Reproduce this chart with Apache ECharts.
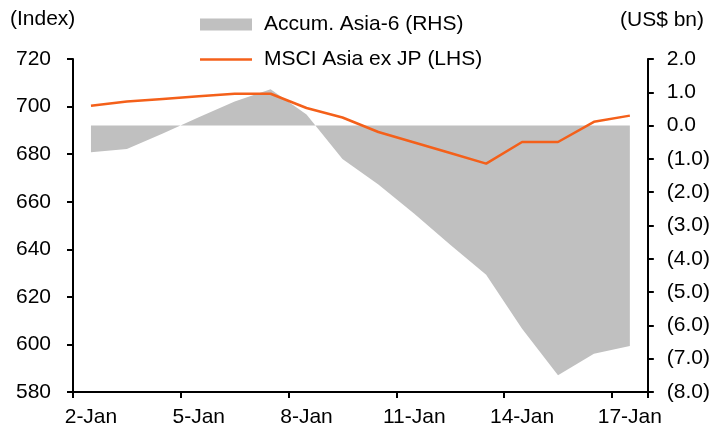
<!DOCTYPE html>
<html>
<head>
<meta charset="utf-8">
<script src="https://cdn.jsdelivr.net/npm/echarts@6/dist/echarts.min.js"></script>
<style>
  html, body { margin: 0; padding: 0; background: #fff; }
  #chart { width: 713px; height: 428px; }
</style>
</head>
<body>
<div id="chart"></div>
<script>
// Daily categories, 2-Jan to 17-Jan
const days = ['2-Jan','3-Jan','4-Jan','5-Jan','6-Jan','7-Jan','8-Jan','9-Jan',
              '10-Jan','11-Jan','12-Jan','13-Jan','14-Jan','15-Jan','16-Jan','17-Jan'];

// MSCI Asia ex JP index level (left axis)
const msciIndex = [700.3, 702.1, 703.2, 704.3, 705.4, 705.4, 699.4, 695.4,
                   689.3, 684.9, 680.5, 676.0, 685.1, 685.1, 693.6, 696.2];

// Accumulated Asia-6 net flows, US$ bn (right axis)
const accumAsia6 = [-0.80, -0.70, -0.24, 0.25, 0.72, 1.09, 0.33, -1.00,
                    -1.77, -2.65, -3.58, -4.48, -6.10, -7.50, -6.85, -6.62];

// Axis settings
const leftMin = 580, leftMax = 720, leftStep = 20;
const rightMin = -8, rightMax = 2, rightStep = 1;

const FONT = '"Liberation Sans", Arial, sans-serif';
const FONT_SIZE = 21;
const ORANGE = '#f4601a';
const GREY = '#c0c0c0';

const chart = echarts.init(document.getElementById('chart'), null, { renderer: 'canvas' });

const axisLineStyle = { lineStyle: { color: '#000', width: 2 } };
const tickStyle = { show: true, length: 6, lineStyle: { color: '#000', width: 2 } };
const labelStyle = { color: '#000', fontFamily: FONT, fontSize: FONT_SIZE };

chart.setOption({
  animation: false,
  backgroundColor: '#fff',
  textStyle: { fontFamily: FONT },
  grid: { left: 73, right: 64, top: 59, bottom: 35, containLabel: false },
  legend: {
    orient: 'vertical',
    left: 195,
    top: 9,
    itemWidth: 52,
    itemHeight: 12,
    itemGap: 14,
    textStyle: { color: '#000', fontFamily: FONT, fontSize: FONT_SIZE, padding: [0, 0, 0, 7] },
    data: [
      { name: 'Accum. Asia-6 (RHS)', icon: 'rect', itemStyle: { color: GREY } },
      {
        name: 'MSCI Asia ex JP (LHS)',
        // thin horizontal bar inside a 52x12 box
        icon: 'path://M0,0 M0,4.75 H52 V7.25 H0 Z M52,12',
        itemStyle: { color: ORANGE, borderWidth: 0 }
      }
    ]
  },
  graphic: [
    { type: 'text', left: 10, top: 9, style: { text: '(Index)', fill: '#000', font: FONT_SIZE + 'px ' + FONT } },
    { type: 'text', left: 620, top: 10, style: { text: '(US$ bn)', fill: '#000', font: FONT_SIZE + 'px ' + FONT } }
  ],
  xAxis: {
    type: 'category',
    data: days,
    boundaryGap: true,
    axisLine: Object.assign({ onZero: false }, axisLineStyle),
    axisTick: Object.assign({ interval: 2 }, tickStyle),
    axisLabel: Object.assign({ interval: 2, margin: 15 }, labelStyle),
    splitLine: { show: false }
  },
  yAxis: [
    {
      type: 'value',
      position: 'left',
      min: leftMin, max: leftMax, interval: leftStep,
      axisLine: Object.assign({ show: true }, axisLineStyle),
      axisTick: tickStyle,
      axisLabel: Object.assign({ margin: 22 }, labelStyle),
      splitLine: { show: false }
    },
    {
      type: 'value',
      position: 'right',
      min: rightMin, max: rightMax, interval: rightStep,
      axisLine: Object.assign({ show: true }, axisLineStyle),
      axisTick: tickStyle,
      axisLabel: Object.assign({
        margin: 19,
        formatter: v => v < 0 ? '(' + Math.abs(v).toFixed(1) + ')' : v.toFixed(1)
      }, labelStyle),
      splitLine: { show: false }
    }
  ],
  series: [
    {
      name: 'Accum. Asia-6 (RHS)',
      type: 'line',
      yAxisIndex: 1,
      data: accumAsia6,
      color: GREY,
      symbol: 'none',
      lineStyle: { width: 0, color: GREY },
      areaStyle: { color: GREY, opacity: 1 },
      z: 1
    },
    {
      name: 'MSCI Asia ex JP (LHS)',
      type: 'line',
      yAxisIndex: 0,
      data: msciIndex,
      color: ORANGE,
      symbol: 'none',
      lineStyle: { width: 2.5, color: ORANGE },
      z: 3
    }
  ]
});
</script>
</body>
</html>
